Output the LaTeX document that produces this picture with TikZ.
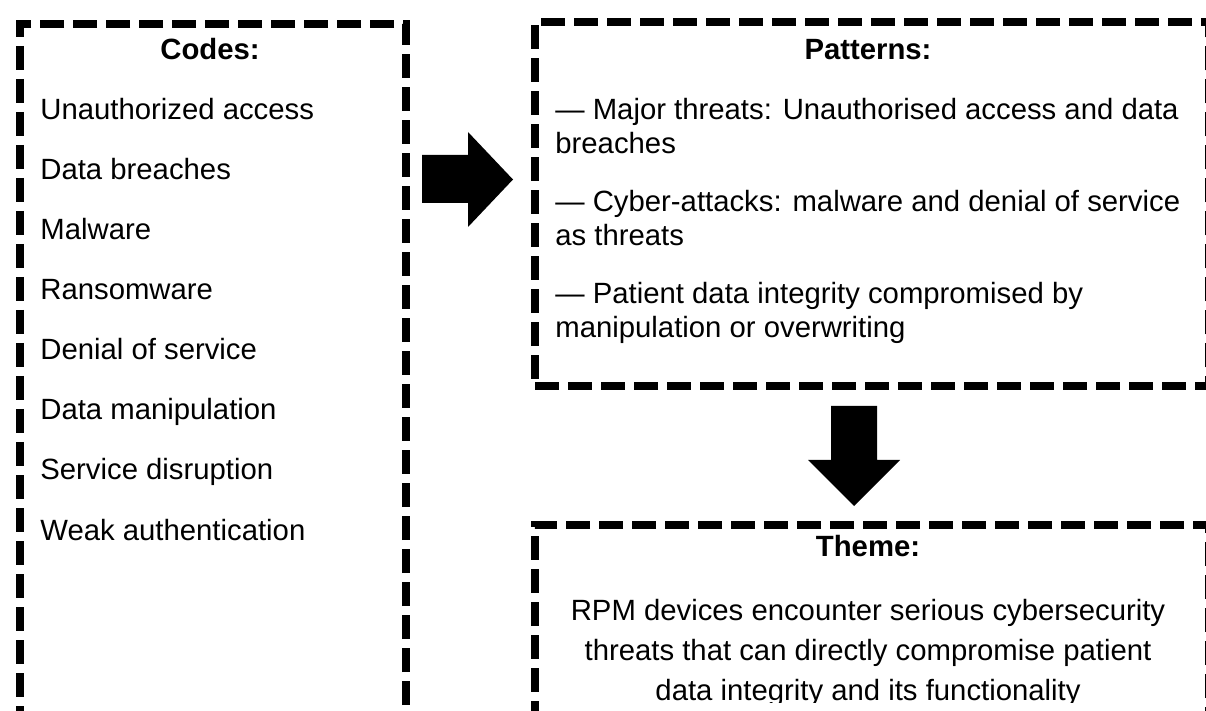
\documentclass[tikz,border=0pt]{standalone}
\usepackage{fontspec}
\setmainfont{Liberation Sans}
\begin{document}
\begin{tikzpicture}[x=0.5pt,y=-0.5pt,
  dashbox/.style={draw=black, line width=4pt, dash pattern=on 12pt off 4.5pt,
                  inner sep=0pt, anchor=north west},
  txt/.style={inner sep=0pt, anchor=base west, font=\fontsize{14.65pt}{17pt}\selectfont},
  ctxt/.style={txt, anchor=base},
  ttl/.style={ctxt, font=\bfseries\fontsize{14.65pt}{17pt}\selectfont},
  blockarrow/.style={fill=black}]
\clip (0,0) rectangle (1206,711);

% dashed frames
\node[dashbox, minimum width=193pt, minimum height=345.5pt] (codes) at (16,20) {};
\node[dashbox, minimum width=337pt, minimum height=182.25pt] (patterns) at (531,18) {};
\node[dashbox, minimum width=337pt, minimum height=96pt] (theme) at (531,521) {};

% codes column
\node[ttl] (codesT) at (210,60) {Codes:};
\node[txt] (c1) at (40,120) {Unauthorized access};
\node[txt] (c2) at (40,180) {Data breaches};
\node[txt] (c3) at (40,240) {Malware};
\node[txt] (c4) at (40,300) {Ransomware};
\node[txt] (c5) at (40,360) {Denial of service};
\node[txt] (c6) at (40,420) {Data manipulation};
\node[txt] (c7) at (40,480) {Service disruption};
\node[txt] (c8) at (40,540) {Weak authentication};

% patterns
\node[ttl] (patT) at (868,60) {Patterns:};
\node[txt] (p1a) at (555,120) {— Major threats: Unauthorised access and data};
\node[txt] (p1b) at (555,154) {breaches};
\node[txt] (p2a) at (555,212) {— Cyber-attacks: malware and denial of service};
\node[txt] (p2b) at (555,246) {as threats};
\node[txt] (p3a) at (555,304) {— Patient data integrity compromised by};
\node[txt] (p3b) at (555,338) {manipulation or overwriting};

% theme (last line runs into the lower edge of the frame)
\node[ttl] (themeT) at (868,556) {Theme:};
\begin{scope}
  \clip (531,521) rectangle (1205,702);
  \node[ctxt] (t1) at (868,620) {RPM devices encounter serious cybersecurity};
  \node[ctxt] (t2) at (868,660) {threats that can directly compromise patient};
  \node[ctxt] (t3) at (868,700) {data integrity and its functionality};
\end{scope}

% block arrows
\fill[blockarrow] (422,155) -- (468,155) -- (468,132) -- (513,179.5)
  -- (468,227) -- (468,203) -- (422,203) -- cycle;
\fill[blockarrow] (831,406) -- (877,406) -- (877,460) -- (900,460)
  -- (854,506) -- (808,460) -- (831,460) -- cycle;
\end{tikzpicture}
\end{document}
